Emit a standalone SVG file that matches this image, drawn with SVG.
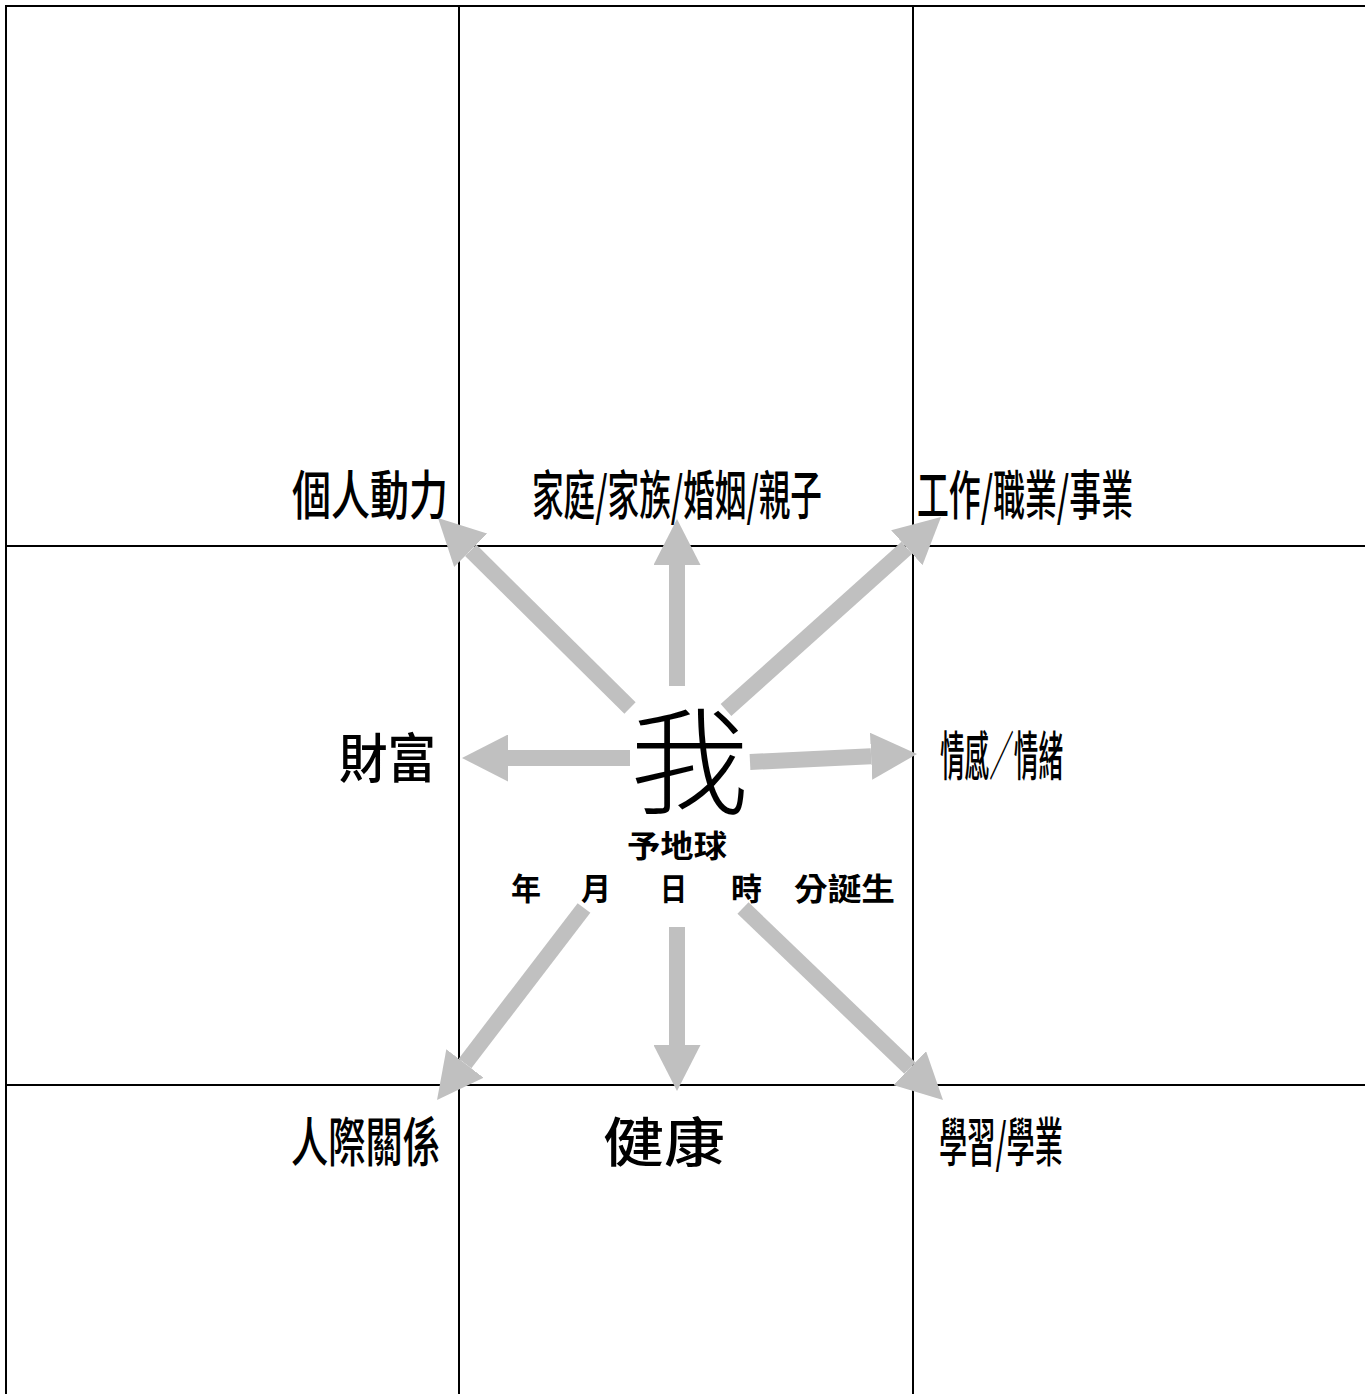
<svg xmlns="http://www.w3.org/2000/svg" width="1365" height="1394" viewBox="0 0 1365 1394">
<style>
.grid{stroke:#000;stroke-width:2;fill:none}
.arr{stroke:#c0c0c0;stroke-width:16;fill:none;marker-end:url(#head)}
.lbl{font-family:"Noto Sans CJK TC","Noto Sans CJK SC",sans-serif;font-size:53px;font-weight:500;fill:#000}
.me{font-family:"Noto Sans CJK TC","Noto Sans CJK SC",sans-serif;font-size:116px;font-weight:300;fill:#000}
.sm{font-family:"Noto Sans CJK TC","Noto Sans CJK SC",sans-serif;font-size:31px;font-weight:700;fill:#000}
</style>
<defs>
<marker id="head" viewBox="0 0 46 47" markerWidth="46" markerHeight="47" markerUnits="userSpaceOnUse" refX="0" refY="23.5" orient="auto">
<path d="M0,0 L46,23.5 L0,47 Z" fill="#c0c0c0"/>
</marker>
</defs>
<rect width="1365" height="1394" fill="#fff"/>
<g id="grid" class="grid">
<line x1="5" y1="6" x2="1365" y2="6"/>
<line x1="5" y1="546" x2="1365" y2="546"/>
<line x1="5" y1="1085" x2="1365" y2="1085"/>
<line x1="6" y1="5" x2="6" y2="1394"/>
<line x1="459" y1="5" x2="459" y2="1394"/>
<line x1="913" y1="5" x2="913" y2="1394"/>
</g>
<g id="connectors">
<line class="arr" x1="630" y1="708" x2="470.7" y2="550.3"/>
<line class="arr" x1="677" y1="686" x2="677" y2="565"/>
<line class="arr" x1="726" y1="710" x2="906.8" y2="547.7"/>
<line class="arr" x1="630" y1="758" x2="508" y2="758"/>
<line class="arr" x1="750" y1="762" x2="871.1" y2="756.2"/>
<line class="arr" x1="584" y1="908" x2="465" y2="1063.5"/>
<line class="arr" x1="677" y1="927" x2="677" y2="1045"/>
<line class="arr" x1="743" y1="908" x2="909.8" y2="1068.1"/>
</g>
<g id="node-center">
<text class="me" x="630" y="805" textLength="119" lengthAdjust="spacingAndGlyphs">我</text>
<text class="sm" x="627" y="857" textLength="100" lengthAdjust="spacingAndGlyphs">予地球</text>
<text class="sm" x="511" y="900" textLength="30" lengthAdjust="spacingAndGlyphs">年</text>
<text class="sm" x="581" y="900" textLength="30" lengthAdjust="spacingAndGlyphs">月</text>
<text class="sm" x="660" y="900" textLength="27" lengthAdjust="spacingAndGlyphs">日</text>
<text class="sm" x="731" y="900" textLength="31" lengthAdjust="spacingAndGlyphs">時</text>
<text class="sm" x="794" y="900" textLength="101" lengthAdjust="spacingAndGlyphs">分誕生</text>
</g>
<g id="node-personal"><text class="lbl" x="292" y="515" textLength="156" lengthAdjust="spacingAndGlyphs">個人動力</text></g>
<g id="node-family"><text class="lbl" x="532" y="515" textLength="290" lengthAdjust="spacingAndGlyphs">家庭/家族/婚姻/親子</text></g>
<g id="node-career"><text class="lbl" x="917" y="515" textLength="216" lengthAdjust="spacingAndGlyphs">工作/職業/事業</text></g>
<g id="node-wealth"><text class="lbl" x="339" y="778" textLength="97" lengthAdjust="spacingAndGlyphs">財富</text></g>
<g id="node-emotion"><text class="lbl" x="940" y="776" textLength="123" lengthAdjust="spacingAndGlyphs">情感／情緒</text></g>
<g id="node-relation"><text class="lbl" x="291" y="1162" textLength="149" lengthAdjust="spacingAndGlyphs">人際關係</text></g>
<g id="node-health"><text class="lbl" x="603" y="1162" textLength="122" lengthAdjust="spacingAndGlyphs">健康</text></g>
<g id="node-study"><text class="lbl" x="939" y="1162" textLength="124" lengthAdjust="spacingAndGlyphs">學習/學業</text></g>
</svg>
